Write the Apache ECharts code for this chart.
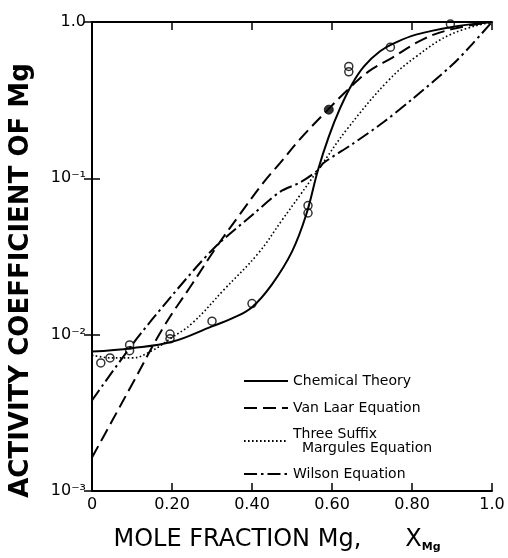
<!DOCTYPE html>
<html>
<head>
<meta charset="utf-8">
<script src="https://cdn.jsdelivr.net/npm/echarts@6/dist/echarts.min.js"></script>
<style>
  html, body { margin: 0; padding: 0; background: #fff; }
  #chart { width: 508px; height: 558px; }
</style>
</head>
<body>
<div id="chart"></div>
<script>
// tick labels
const xTickLabels = ['0', '0.20', '0.40', '0.60', '0.80', '1.0'];
const yTickLabels = ['1.0', '10\u207B\u00B9', '10\u207B\u00B2', '10\u207B\u00B3']; // by exponent

// Chemical Theory (solid)
const chemX = [0, 0.1, 0.2, 0.3, 0.35, 0.4, 0.45, 0.5, 0.535, 0.565, 0.592, 0.62, 0.65, 0.68, 0.72, 0.76, 0.81, 0.9, 1.0];
const chemY = [0.0078, 0.0082, 0.0090, 0.0113, 0.0127, 0.0150, 0.021, 0.034, 0.058, 0.113, 0.185, 0.28, 0.40, 0.52, 0.65, 0.74, 0.83, 0.93, 1.0];

// Van Laar Equation (dashed)
const vlX = [0, 0.05, 0.1, 0.18, 0.25, 0.31, 0.37, 0.43, 0.47, 0.52, 0.59, 0.64, 0.69, 0.75, 0.83, 0.9, 1.0];
const vlY = [0.00164, 0.0028, 0.0048, 0.0113, 0.021, 0.036, 0.059, 0.095, 0.125, 0.178, 0.275, 0.37, 0.48, 0.59, 0.78, 0.90, 1.0];

// Three Suffix Margules Equation (dotted)
const mgX = [0, 0.05, 0.1, 0.15, 0.2, 0.25, 0.33, 0.415, 0.475, 0.52, 0.565, 0.64, 0.74, 0.81, 0.9, 1.0];
const mgY = [0.0074, 0.0071, 0.0071, 0.0079, 0.0096, 0.0118, 0.0194, 0.033, 0.054, 0.078, 0.113, 0.21, 0.42, 0.60, 0.84, 1.0];

// Wilson Equation (dash-dot)
const wX = [0, 0.1, 0.2, 0.306, 0.4, 0.47, 0.52, 0.565, 0.578, 0.65, 0.73, 0.8, 0.9, 0.95, 1.0];
const wY = [0.0038, 0.0086, 0.0178, 0.036, 0.058, 0.082, 0.094, 0.113, 0.125, 0.165, 0.23, 0.32, 0.53, 0.72, 1.0];

// experimental points
const ptX = [0.022, 0.045, 0.094, 0.094, 0.195, 0.195, 0.30, 0.40, 0.54, 0.54, 0.642, 0.642, 0.746, 0.896];
const ptY = [0.0066, 0.0071, 0.0086, 0.0079, 0.0101, 0.0094, 0.0122, 0.0158, 0.067, 0.060, 0.52, 0.48, 0.69, 0.97];
const filledX = [0.592];
const filledY = [0.275];

const FONT = 'DejaVu Sans';
const pairs = (xs, ys) => xs.map((x, i) => [x, ys[i]]);

const chart = echarts.init(document.getElementById('chart'));

const axisLine = { lineStyle: { color: '#000', width: 2 } };
const tick = { inside: true, length: 8, lineStyle: { color: '#000', width: 1.5 } };

const option = {
  animation: false,
  backgroundColor: '#fff',
  grid: { left: 90, right: 16, top: 22, bottom: 61 },
  legend: {
    orient: 'vertical',
    left: 238,
    top: 368,
    itemWidth: 44,
    itemHeight: 10,
    itemGap: 11,
    itemStyle: { opacity: 0 },
    textStyle: { fontFamily: FONT, fontSize: 14, color: '#000', lineHeight: 16 },
    data: [
      'Chemical Theory',
      'Van Laar Equation',
      { name: 'Three Suffix\n  Margules Equation', textStyle: { lineHeight: 14 } },
      'Wilson Equation'
    ]
  },
  xAxis: [
    {
      type: 'value', min: 0, max: 1, interval: 0.2, position: 'bottom',
      axisLine: axisLine, axisTick: tick, splitLine: { show: false },
      axisLabel: {
        margin: 6, fontFamily: FONT, fontSize: 16, color: '#000',
        formatter: v => xTickLabels[Math.round(v / 0.2)]
      },
      name: '{a|MOLE FRACTION Mg,}{b|X}{c|Mg}',
      nameLocation: 'middle',
      nameGap: 36,
      nameTextStyle: {
        padding: [0, 30, 0, 0],
        rich: {
          a: { fontFamily: FONT, fontSize: 24, color: '#000', lineHeight: 26 },
          b: { fontFamily: FONT, fontSize: 24, color: '#000', lineHeight: 26, padding: [0, 0, 0, 44] },
          c: { fontFamily: FONT, fontSize: 11, fontWeight: 'bold', color: '#000', verticalAlign: 'bottom' }
        }
      }
    },
    {
      type: 'value', min: 0, max: 1, interval: 0.2, position: 'top',
      axisLine: axisLine, axisTick: tick, splitLine: { show: false },
      axisLabel: { show: false }
    }
  ],
  yAxis: [
    {
      type: 'log', logBase: 10, min: 0.001, max: 1, position: 'left',
      axisLine: axisLine, axisTick: tick, splitLine: { show: false },
      minorTick: { show: false },
      axisLabel: {
        margin: 6, fontFamily: FONT, fontSize: 16, color: '#000',
        formatter: v => yTickLabels[Math.round(-Math.log10(v))]
      },
      name: 'ACTIVITY COEFFICIENT OF Mg',
      nameLocation: 'middle',
      nameRotate: 90,
      nameGap: 58,
      nameTextStyle: {
        fontFamily: FONT, fontSize: 26, fontWeight: 'bold', color: '#000',
        padding: [0, 48, 0, 0]
      }
    },
    {
      type: 'log', logBase: 10, min: 0.001, max: 1, position: 'right',
      axisLine: axisLine, axisTick: tick, splitLine: { show: false },
      axisLabel: { show: false }
    }
  ],
  series: [
    {
      name: 'Chemical Theory', type: 'line', data: pairs(chemX, chemY),
      symbol: 'none', smooth: 0.4, itemStyle: { color: '#000' },
      lineStyle: { color: '#000', width: 2, type: 'solid' }
    },
    {
      name: 'Van Laar Equation', type: 'line', data: pairs(vlX, vlY),
      symbol: 'none', smooth: 0.4, itemStyle: { color: '#000' },
      lineStyle: { color: '#000', width: 2, type: [13, 6] }
    },
    {
      name: 'Three Suffix\n  Margules Equation', type: 'line', data: pairs(mgX, mgY),
      symbol: 'none', smooth: 0.4, itemStyle: { color: '#000' },
      lineStyle: { color: '#000', width: 1.6, type: [1.6, 2.4] }
    },
    {
      name: 'Wilson Equation', type: 'line', data: pairs(wX, wY),
      symbol: 'none', smooth: 0.3, itemStyle: { color: '#000' },
      lineStyle: { color: '#000', width: 2, type: [13, 4, 2.5, 4] }
    },
    {
      name: 'Data', type: 'scatter', data: pairs(ptX, ptY),
      symbol: 'circle', symbolSize: 8, z: 5,
      itemStyle: { color: 'rgba(255,255,255,0)', borderColor: '#000', borderWidth: 1.5 }
    },
    {
      name: 'Data2', type: 'scatter', data: pairs(filledX, filledY),
      symbol: 'circle', symbolSize: 9, z: 5,
      itemStyle: { color: '#000', borderColor: '#000', borderWidth: 1 }
    }
  ]
};

chart.setOption(option);
</script>
</body>
</html>
